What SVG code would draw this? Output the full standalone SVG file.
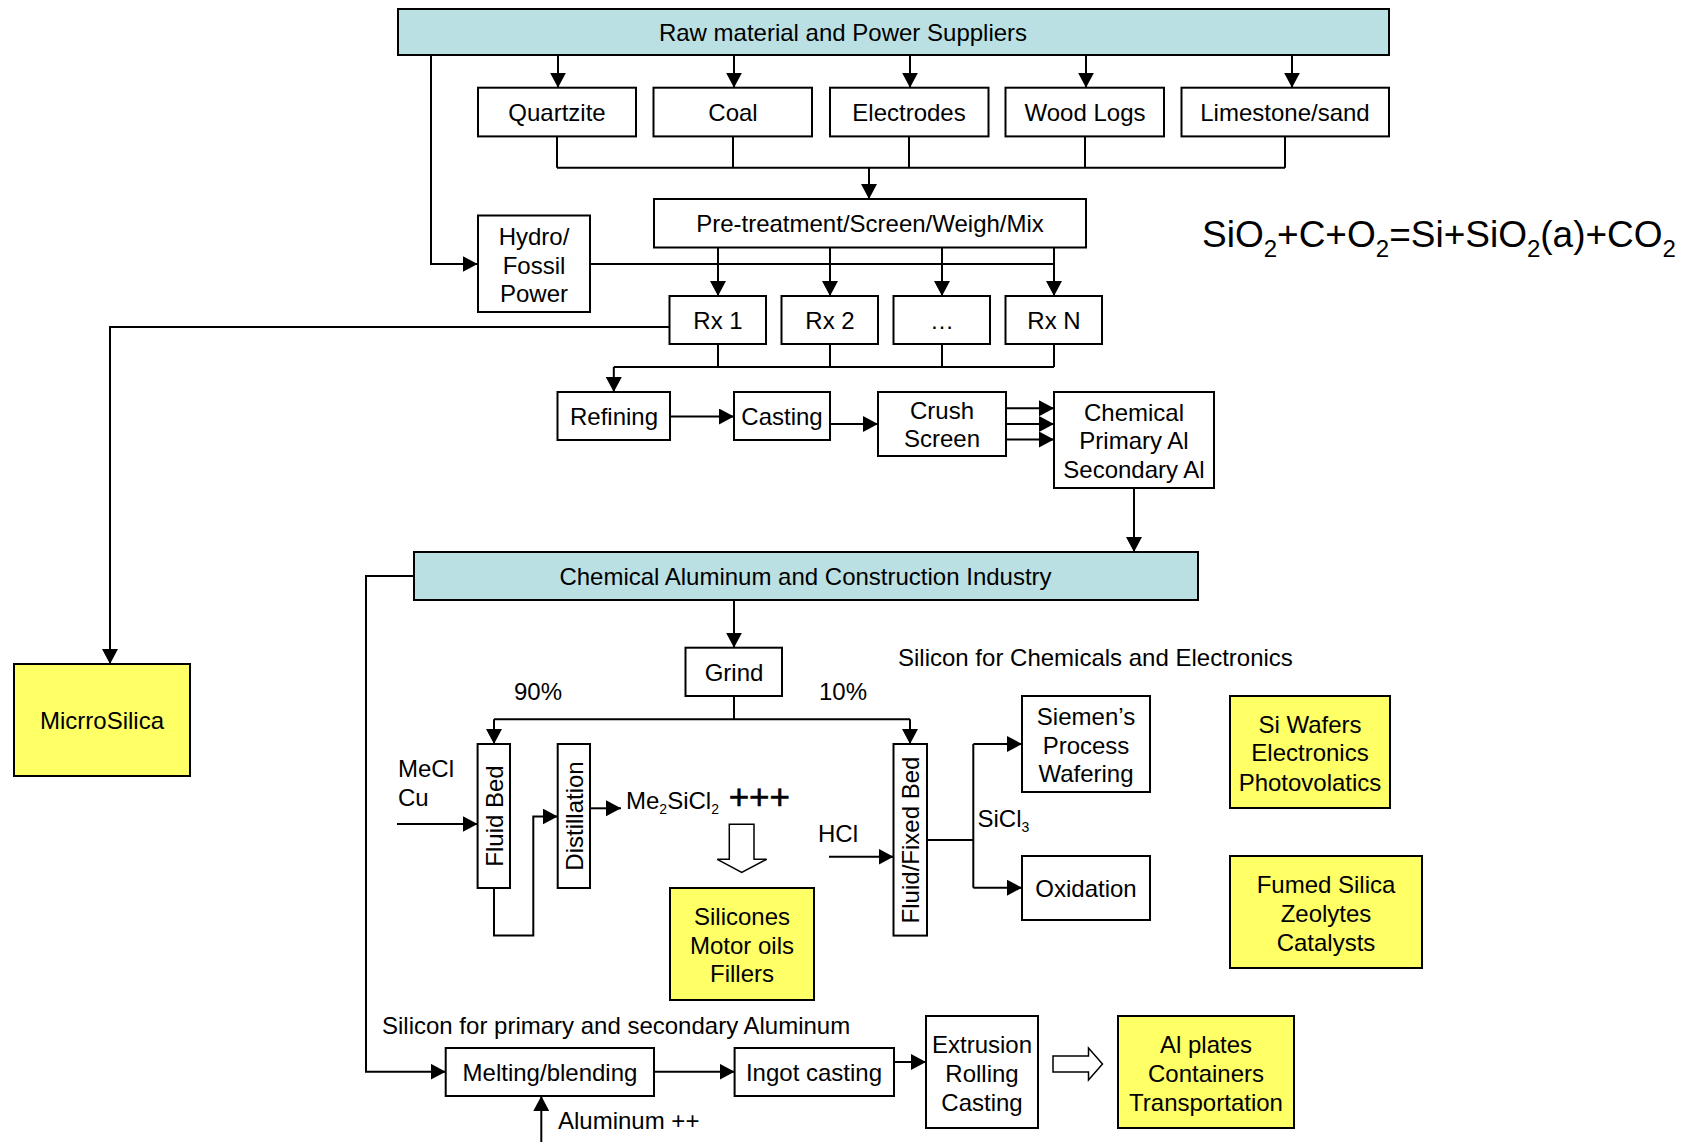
<svg xmlns="http://www.w3.org/2000/svg" width="1698" height="1142" viewBox="0 0 1698 1142">
  <defs>
    <style>
      .box { fill: #ffffff; stroke: #000000; stroke-width: 2; }
      .teal { fill: #bbe0e3; }
      .yel { fill: #ffff66; }
      .ln { fill: none; stroke: #000000; stroke-width: 2; }
      .arr { marker-end: url(#ah); }
      .hollow { fill: #ffffff; stroke: #000000; stroke-width: 1.5; }
      text { font-family: "Liberation Sans", Arial, Helvetica, sans-serif; font-size: 24px; fill: #000000; text-anchor: middle; }
      .st { text-anchor: start; }
      .plus { font-size: 35px; stroke: #000000; stroke-width: 0.6; }
    </style>
    <marker id="ah" viewBox="0 0 15 16" refX="15" refY="8" markerWidth="15" markerHeight="16" markerUnits="userSpaceOnUse" orient="auto">
      <path d="M0,0L15,8L0,16z" fill="#000000"/>
    </marker>
  </defs>
  <rect width="1698" height="1142" fill="#ffffff"/>

  <!-- connectors -->
  <g id="connectors">
    <!-- suppliers to raw materials -->
    <path class="ln arr" d="M558,55V87.7"/>
    <path class="ln arr" d="M734,55V87.7"/>
    <path class="ln arr" d="M910,55V87.7"/>
    <path class="ln arr" d="M1086,55V87.7"/>
    <path class="ln arr" d="M1292,55V87.7"/>
    <!-- suppliers to power -->
    <path class="ln arr" d="M431,55V264H477.6"/>
    <!-- raw materials merge into pre-treatment -->
    <path class="ln" d="M557,136.4V167.7M733,136.4V167.7M909,136.4V167.7M1085,136.4V167.7M1285,136.4V167.7M557,167.7H1285"/>
    <path class="ln arr" d="M869,167.7V199"/>
    <!-- pre-treatment to reactors -->
    <path class="ln arr" d="M718,247.5V296"/>
    <path class="ln arr" d="M830,247.5V296"/>
    <path class="ln arr" d="M942,247.5V296"/>
    <path class="ln arr" d="M1054,247.5V296"/>
    <!-- power line -->
    <path class="ln" d="M590,264H1054"/>
    <!-- reactors to refining -->
    <path class="ln" d="M718,344V367M830,344V367M942,344V367M1054,344V367M613.8,367H1054"/>
    <path class="ln arr" d="M613.8,367V392"/>
    <!-- reactor to microsilica -->
    <path class="ln arr" d="M669.5,327H110V664"/>
    <!-- refining chain -->
    <path class="ln arr" d="M670,416.5H734"/>
    <path class="ln arr" d="M830,424H878"/>
    <path class="ln arr" d="M1006,408.3H1054"/>
    <path class="ln arr" d="M1006,424H1054"/>
    <path class="ln arr" d="M1006,439.5H1054"/>
    <path class="ln arr" d="M1134,488V552"/>
    <!-- industry to grind and aluminum -->
    <path class="ln arr" d="M734,600V647.7"/>
    <path class="ln arr" d="M414,576H366V1071.7H445.7"/>
    <!-- grind split -->
    <path class="ln" d="M734,696V719.3M494,719.3H910"/>
    <path class="ln arr" d="M494,719.3V744"/>
    <path class="ln arr" d="M910,719.3V744"/>
    <!-- silicones branch -->
    <path class="ln arr" d="M397,824H477.6"/>
    <path class="ln arr" d="M494,888V935.6H533.3V816.5H557.7"/>
    <path class="ln arr" d="M590,808.3H621"/>
    <polygon class="hollow" points="729.3,824.3 754,824.3 754,859.3 766.7,859.3 741.7,872.3 717.3,859.3 729.3,859.3"/>
    <!-- electronics branch -->
    <path class="ln arr" d="M829,856.7H893.5"/>
    <path class="ln" d="M927,840H973.3M973.3,744V887.7"/>
    <path class="ln arr" d="M973.3,744H1022"/>
    <path class="ln arr" d="M973.3,887.7H1022"/>
    <!-- aluminum branch -->
    <path class="ln arr" d="M654,1071.7H734.6"/>
    <path class="ln arr" d="M894,1062H926"/>
    <path class="ln arr" d="M541.3,1142V1096"/>
    <polygon class="hollow" points="1053,1056 1088.5,1056 1088.5,1048 1102.5,1064 1088.5,1080 1088.5,1072 1053,1072"/>
  </g>

  <!-- top supplier band -->
  <g id="n-suppliers">
    <rect class="box teal" x="398" y="9" width="991" height="46"/>
    <text x="843" y="40.5">Raw material and Power Suppliers</text>
  </g>

  <!-- raw materials -->
  <g id="n-quartzite">
    <rect class="box" x="478" y="87.7" width="158" height="48.7"/>
    <text x="557" y="120.5">Quartzite</text>
  </g>
  <g id="n-coal">
    <rect class="box" x="653.5" y="87.7" width="158.5" height="48.7"/>
    <text x="733" y="120.5">Coal</text>
  </g>
  <g id="n-electrodes">
    <rect class="box" x="830" y="87.7" width="158.5" height="48.7"/>
    <text x="909" y="120.5">Electrodes</text>
  </g>
  <g id="n-woodlogs">
    <rect class="box" x="1005.5" y="87.7" width="158.5" height="48.7"/>
    <text x="1085" y="120.5">Wood Logs</text>
  </g>
  <g id="n-limestone">
    <rect class="box" x="1181.5" y="87.7" width="207.5" height="48.7"/>
    <text x="1285" y="120.5">Limestone/sand</text>
  </g>

  <g id="n-pretreatment">
    <rect class="box" x="654" y="199" width="432" height="48.5"/>
    <text x="870" y="232">Pre-treatment/Screen/Weigh/Mix</text>
  </g>

  <g id="n-power">
    <rect class="box" x="478" y="215.5" width="112" height="96.5"/>
    <text x="534" y="244.5">Hydro/</text>
    <text x="534" y="273.5">Fossil</text>
    <text x="534" y="302">Power</text>
  </g>

  <!-- reactors -->
  <g id="n-rx1">
    <rect class="box" x="669.5" y="296" width="96.5" height="48"/>
    <text x="718" y="328.5">Rx 1</text>
  </g>
  <g id="n-rx2">
    <rect class="box" x="781.5" y="296" width="96.5" height="48"/>
    <text x="830" y="328.5">Rx 2</text>
  </g>
  <g id="n-rxdots">
    <rect class="box" x="893.5" y="296" width="96.5" height="48"/>
    <text x="942" y="328.5">…</text>
  </g>
  <g id="n-rxn">
    <rect class="box" x="1005.5" y="296" width="96.5" height="48"/>
    <text x="1054" y="328.5">Rx N</text>
  </g>

  <g id="n-refining">
    <rect class="box" x="557.5" y="392" width="112.5" height="48"/>
    <text x="614" y="424.5">Refining</text>
  </g>
  <g id="n-casting">
    <rect class="box" x="734" y="392" width="96" height="48"/>
    <text x="782" y="424.5">Casting</text>
  </g>
  <g id="n-crush">
    <rect class="box" x="878" y="392" width="128" height="64"/>
    <text x="942" y="419">Crush</text>
    <text x="942" y="447">Screen</text>
  </g>
  <g id="n-chemical">
    <rect class="box" x="1054" y="392" width="160" height="96"/>
    <text x="1134" y="421">Chemical</text>
    <text x="1134" y="449">Primary Al</text>
    <text x="1134" y="477.5">Secondary Al</text>
  </g>

  <g id="n-reaction">
    <text class="st" x="1202" y="247" style="font-size:37px">SiO<tspan dy="10" style="font-size:24px">2</tspan><tspan dy="-10">+C+O</tspan><tspan dy="10" style="font-size:24px">2</tspan><tspan dy="-10">=Si+SiO</tspan><tspan dy="10" style="font-size:24px">2</tspan><tspan dy="-10">(a)+CO</tspan><tspan dy="10" style="font-size:24px">2</tspan></text>
  </g>

  <g id="n-microsilica">
    <rect class="box yel" x="14" y="664" width="176" height="112"/>
    <text x="102" y="728.5">MicrroSilica</text>
  </g>

  <g id="n-industry">
    <rect class="box teal" x="414" y="552" width="784" height="48"/>
    <text x="805.5" y="585">Chemical Aluminum and Construction Industry</text>
  </g>

  <g id="n-grind">
    <rect class="box" x="685.5" y="647.7" width="96.5" height="48.3"/>
    <text x="734" y="680.5">Grind</text>
  </g>

  <g id="labels">
    <text class="st" x="514" y="699.5">90%</text>
    <text class="st" x="819" y="699.5">10%</text>
    <text class="st" x="898" y="665.5">Silicon for Chemicals and Electronics</text>
    <text class="st" x="398" y="776.5">MeCl</text>
    <text class="st" x="398" y="805.5">Cu</text>
    <text class="st" x="626" y="808.5">Me<tspan dy="5" style="font-size:14px">2</tspan><tspan dy="-5">SiCl</tspan><tspan dy="5" style="font-size:14px">2</tspan><tspan dy="-5" class="plus"> +++</tspan></text>
    <text class="st" x="818" y="841.5">HCl</text>
    <text class="st" x="977.5" y="826.5">SiCl<tspan dy="5" style="font-size:14px">3</tspan></text>
    <text class="st" x="382" y="1033.5">Silicon for primary and secondary Aluminum</text>
    <text class="st" x="558" y="1129">Aluminum ++</text>
  </g>

  <g id="n-fluidbed">
    <rect class="box" x="477.6" y="744" width="32.4" height="144"/>
    <text transform="translate(494,816) rotate(-90)" x="0" y="8.5">Fluid Bed</text>
  </g>
  <g id="n-distillation">
    <rect class="box" x="557.7" y="744" width="32.3" height="144"/>
    <text transform="translate(574,816) rotate(-90)" x="0" y="8.5">Distillation</text>
  </g>
  <g id="n-silicones">
    <rect class="box yel" x="670" y="888" width="144" height="112"/>
    <text x="742" y="924.5">Silicones</text>
    <text x="742" y="953.5">Motor oils</text>
    <text x="742" y="982">Fillers</text>
  </g>
  <g id="n-fixedbed">
    <rect class="box" x="893.5" y="744" width="33.5" height="191.6"/>
    <text transform="translate(910,840) rotate(-90)" x="0" y="8.5">Fluid/Fixed Bed</text>
  </g>
  <g id="n-siemens">
    <rect class="box" x="1022" y="696" width="128" height="96"/>
    <text x="1086" y="724.5">Siemen’s</text>
    <text x="1086" y="753.5">Process</text>
    <text x="1086" y="781.5">Wafering</text>
  </g>
  <g id="n-oxidation">
    <rect class="box" x="1022" y="856" width="128" height="64"/>
    <text x="1086" y="896.5">Oxidation</text>
  </g>
  <g id="n-wafers">
    <rect class="box yel" x="1230" y="696" width="160" height="112"/>
    <text x="1310" y="733">Si Wafers</text>
    <text x="1310" y="761">Electronics</text>
    <text x="1310" y="790.5">Photovolatics</text>
  </g>
  <g id="n-fumed">
    <rect class="box yel" x="1230" y="856" width="192" height="112"/>
    <text x="1326" y="893">Fumed Silica</text>
    <text x="1326" y="922">Zeolytes</text>
    <text x="1326" y="950.5">Catalysts</text>
  </g>

  <g id="n-melting">
    <rect class="box" x="445.7" y="1048" width="208.3" height="48"/>
    <text x="550" y="1080.5">Melting/blending</text>
  </g>
  <g id="n-ingot">
    <rect class="box" x="734.6" y="1048" width="159.4" height="48"/>
    <text x="814" y="1080.5">Ingot casting</text>
  </g>
  <g id="n-extrusion">
    <rect class="box" x="926" y="1016" width="112" height="112"/>
    <text x="982" y="1052.5">Extrusion</text>
    <text x="982" y="1081.5">Rolling</text>
    <text x="982" y="1110.5">Casting</text>
  </g>
  <g id="n-alplates">
    <rect class="box yel" x="1118" y="1016" width="176" height="112"/>
    <text x="1206" y="1052.5">Al plates</text>
    <text x="1206" y="1081.5">Containers</text>
    <text x="1206" y="1110.5">Transportation</text>
  </g>
</svg>
